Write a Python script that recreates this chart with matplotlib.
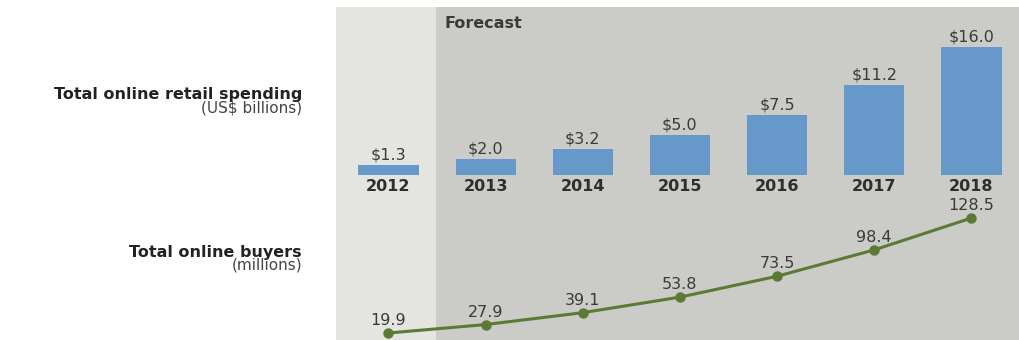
import matplotlib
matplotlib.use("Agg")
import matplotlib.pyplot as plt

plt.rcParams["font.family"] = ["DejaVu Sans"]

years = ["2012", "2013", "2014", "2015", "2016", "2017", "2018"]
spending = [1.3, 2.0, 3.2, 5.0, 7.5, 11.2, 16.0]
buyers = [19.9, 27.9, 39.1, 53.8, 73.5, 98.4, 128.5]

W, H = 1019, 340
fig = plt.figure(figsize=(W / 100, H / 100), dpi=100)
fig.patch.set_facecolor("white")

x = list(range(len(years)))
xlim = (-0.54, 6.49)
left = 336 / W
width = 1 - left

# background panel
bg = fig.add_axes([left, 0, width, (H - 7) / H])
bg.set_xlim(*xlim)
bg.set_ylim(0, 1)
bg.axvspan(xlim[0], 0.49, color="#e4e4e1", lw=0)
bg.axvspan(0.49, xlim[1], color="#cbcbc8", lw=0)
bg.text(0.58, 1 - 16 / 333, "Forecast", fontsize=11.5, fontweight="bold",
        color="#3a3a3a", va="center", ha="left")
bg.axis("off")

# bars
ax_bar = fig.add_axes([left, (H - 175) / H, width, 168 / H])
ax_bar.set_xlim(*xlim)
ax_bar.set_ylim(0, 21)
ax_bar.bar(x, spending, width=0.62, color="#6798ca")
for xi, v in zip(x, spending):
    ax_bar.text(xi, v + 0.3, f"${v:.1f}", ha="center", va="bottom",
                fontsize=11.5, color="#3a3a3a")
for xi, yr in zip(x, years):
    ax_bar.text(xi, -0.5, yr, ha="center", va="top", fontsize=11.5,
                fontweight="bold", color="#2e2e2e")
ax_bar.axis("off")

# line
ax_line = fig.add_axes([left, 0, width, 200 / H])
ax_line.set_xlim(*xlim)
ax_line.set_ylim(13.3, 202.2)
ax_line.plot(x, buyers, color="#5b7b34", lw=2.2, marker="o", ms=6.5,
             clip_on=False)
for xi, v in zip(x, buyers):
    ax_line.text(xi, v + 4.5, f"{v:.1f}", ha="center", va="bottom",
                 fontsize=11.5, color="#3a3a3a")
ax_line.axis("off")

# left labels
fig.text(302 / W, 1 - 95 / H, "Total online retail spending", ha="right",
         va="center", fontsize=11.5, fontweight="bold", color="#222222")
fig.text(302 / W, 1 - 108 / H, "(US$ billions)", ha="right", va="center",
         fontsize=11, color="#444444")
fig.text(302 / W, 1 - 252 / H, "Total online buyers", ha="right",
         va="center", fontsize=11.5, fontweight="bold", color="#222222")
fig.text(302 / W, 1 - 265 / H, "(millions)", ha="right", va="center",
         fontsize=11, color="#444444")

fig.savefig("out.png", dpi=100)
